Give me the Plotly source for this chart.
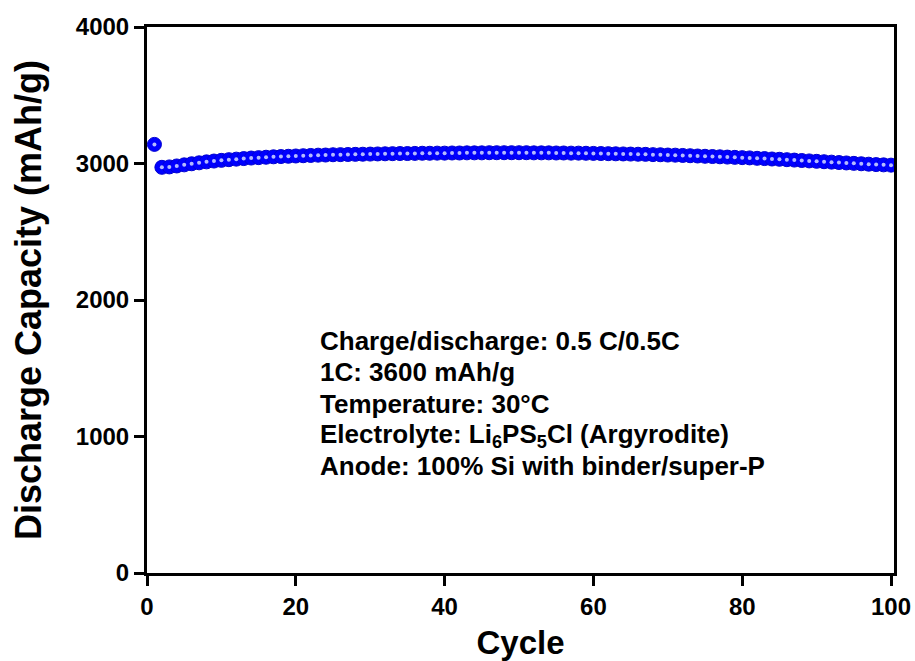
import plotly.graph_objects as go

cycles = list(range(1, 101))
capacity = [
    3140, 2972, 2975, 2982, 2990, 2998, 3005, 3012, 3018, 3023,
    3028, 3032, 3036, 3040, 3043, 3046, 3049, 3051, 3053, 3055,
    3057, 3059, 3061, 3062, 3064, 3065, 3066, 3067, 3068, 3069,
    3070, 3071, 3072, 3073, 3073, 3074, 3075, 3075, 3076, 3076,
    3077, 3077, 3078, 3078, 3078, 3079, 3079, 3079, 3079, 3079,
    3079, 3078, 3078, 3078, 3077, 3077, 3076, 3076, 3075, 3074,
    3073, 3072, 3071, 3070, 3069, 3068, 3067, 3065, 3064, 3062,
    3061, 3059, 3057, 3055, 3053, 3051, 3049, 3047, 3045, 3043,
    3041, 3038, 3036, 3033, 3031, 3028, 3025, 3022, 3019, 3016,
    3013, 3010, 3007, 3004, 3001, 2998, 2995, 2992, 2990, 2988,
]
x_ticks = [0, 20, 40, 60, 80, 100]
y_ticks = [0, 1000, 2000, 3000, 4000]
notes = [
    "Charge/discharge: 0.5 C/0.5C",
    "1C: 3600 mAh/g",
    "Temperature: 30°C",
    "Electrolyte: Li<sub>6</sub>PS<sub>5</sub>Cl (Argyrodite)",
    "Anode: 100% Si with binder/super-P",
]
note_y = [1700, 1472, 1238, 1011, 784]

FONT = "Liberation Sans, Arial, sans-serif"

fig = go.Figure()
fig.add_trace(go.Scatter(
    x=cycles, y=capacity, mode="markers",
    marker=dict(size=14, color="#0000ff", line=dict(color="#0000d0", width=1)),
    showlegend=False, hoverinfo="skip",
))
fig.add_trace(go.Scatter(
    x=cycles, y=capacity, mode="markers",
    marker=dict(size=4, color="#b4baff", line=dict(width=0)),
    showlegend=False, hoverinfo="skip",
))

for t, yv in zip(notes, note_y):
    fig.add_annotation(
        x=23.0, y=yv, xref="x", yref="y", text=t, showarrow=False,
        xanchor="left", yanchor="middle",
        font=dict(family=FONT, size=26, color="black", weight="bold"),
    )

fig.update_layout(
    width=915, height=661,
    margin=dict(l=147, r=21, t=27, b=88, autoexpand=False),
    paper_bgcolor="white", plot_bgcolor="white",
    font=dict(family=FONT, color="black", weight="bold"),
)
fig.update_xaxes(
    range=[0, 100.4], tickvals=x_ticks, ticktext=[str(v) for v in x_ticks],
    showgrid=False, zeroline=False, automargin=False,
    showline=True, linewidth=3, linecolor="black", mirror=True,
    ticks="outside", ticklen=10, tickwidth=3, tickcolor="black",
    tickfont=dict(family=FONT, size=24, color="black", weight="bold"),
    title=dict(text="Cycle", standoff=13,
               font=dict(family=FONT, size=33, color="black", weight="bold")),
)
fig.update_yaxes(
    range=[0, 4000], tickvals=y_ticks, ticktext=[str(v) for v in y_ticks],
    showgrid=False, zeroline=False, automargin=False,
    showline=True, linewidth=3, linecolor="black", mirror=True,
    ticks="outside", ticklen=10, tickwidth=3, tickcolor="black",
    tickfont=dict(family=FONT, size=24, color="black", weight="bold"),
    title=dict(text="Discharge Capacity (mAh/g)", standoff=24,
               font=dict(family=FONT, size=36, color="black", weight="bold")),
)

fig.write_html(
    "out.html",
    config={"displayModeBar": False},
    post_script="document.body.style.margin='0'; document.body.style.overflow='hidden';",
)
